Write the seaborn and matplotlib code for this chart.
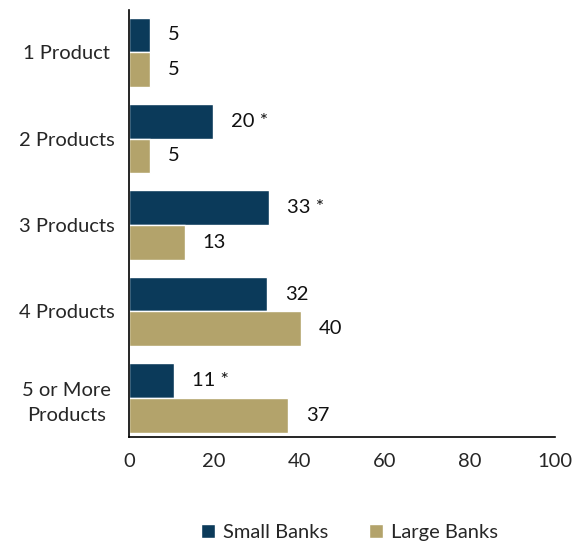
import numpy as np
import pandas as pd
import matplotlib.pyplot as plt
import seaborn as sns
from matplotlib.patches import Patch

categories = ["1 Product", "2 Products", "3 Products", "4 Products", "5 or More\nProducts"]
small_banks = [5.0, 19.7, 32.9, 32.4, 10.6]
large_banks = [5.0, 5.0, 13.1, 40.4, 37.3]
small_labels = ["5", "20 *", "33 *", "32", "11 *"]
large_labels = ["5", "5", "13", "40", "37"]
series = ["Small Banks", "Large Banks"]
colors = ["#0B3A5A", "#B3A36B"]


def make_chart():
    df = pd.DataFrame({
        "Category": categories * 2,
        "Value": small_banks + large_banks,
        "Group": [series[0]] * len(categories) + [series[1]] * len(categories),
    })

    sns.set_theme(style="white")
    plt.rcParams['font.family'] = ['Lato', 'DejaVu Sans']
    fs = 14.5

    fig = plt.figure(figsize=(5.73, 5.44), dpi=100)
    ax = fig.add_axes([0.225, 0.197, 0.744, 0.785])

    sns.barplot(data=df, y="Category", x="Value", hue="Group", orient="h",
                palette=colors, width=0.8, ax=ax, legend=False, saturation=1)

    # value labels next to the bars
    for cont, labels in zip(ax.containers, [small_labels, large_labels]):
        for bar, lab in zip(cont, labels):
            ax.annotate(lab, (bar.get_width(), bar.get_y() + bar.get_height() / 2),
                        xytext=(13, 0), textcoords="offset points",
                        ha="left", va="center", fontsize=fs, color="#111111")

    ax.set_xlim(0, 100)
    ax.set_ylim(4.45, -0.49)
    ax.set_xticks([0, 20, 40, 60, 80, 100])
    ax.set_xlabel("")
    ax.set_ylabel("")
    ax.tick_params(axis="x", length=5, width=1.2, color="black", labelsize=fs, direction="out", pad=7)
    ax.tick_params(axis="y", length=0, labelsize=fs, pad=45)
    for lab in ax.get_yticklabels():
        lab.set_horizontalalignment("center")
        lab.set_linespacing(1.55)

    for side in ["top", "right"]:
        ax.spines[side].set_visible(False)
    for side in ["left", "bottom"]:
        ax.spines[side].set_color("black")
        ax.spines[side].set_linewidth(1.2)

    handles = [Patch(facecolor=c, label=s) for c, s in zip(colors, series)]
    fig.legend(handles=handles, loc="lower center", bbox_to_anchor=(0.61, -0.028), ncol=2,
               frameon=False, fontsize=fs, handlelength=0.7, handleheight=0.7,
               handletextpad=0.4, columnspacing=2.0)

    fig.savefig("out.png", dpi=100)


if __name__ == "__main__":
    make_chart()
